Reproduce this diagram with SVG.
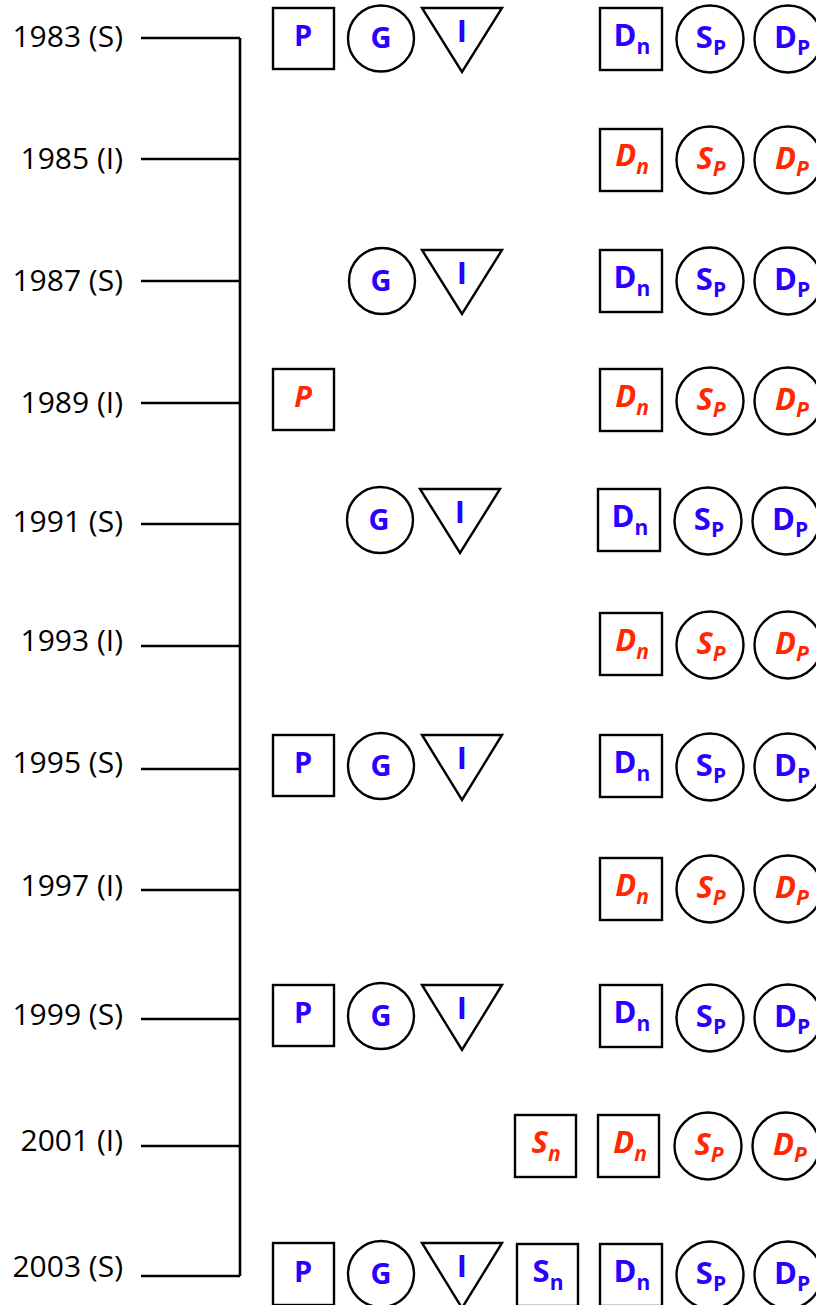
<svg xmlns="http://www.w3.org/2000/svg" width="816" height="1305" viewBox="0 0 816 1305">
<style>
.sh{fill:#fff;stroke:#000;stroke-width:2.4}
.ln{stroke:#000;stroke-width:2.6;fill:none}
.yr{font-family:"Open Sans","DejaVu Sans",sans-serif;font-size:30px;fill:#000;text-anchor:end}
.lb{font-family:"Open Sans","DejaVu Sans",sans-serif;font-weight:bold;font-size:29px;fill:#2B00FF;text-anchor:middle}
.big{font-size:31px}
.r{fill:#FF2800;font-style:italic}
.sb{font-size:21px}
</style>
<rect width="816" height="1305" fill="#fff"/>
<g id="connectors">
<path class="ln" d="M240 38V1276"/>
<path class="ln" d="M141 38H240M141 159H240M141 281H240M141 403H240M141 524H240M141 646H240M141 769H240M141 890H240M141 1019H240M141 1146H240M141 1276H240"/>
</g>
<g id="years">
<text class="yr" x="123" y="47">1983 (S)</text>
<text class="yr" x="123" y="169">1985 (I)</text>
<text class="yr" x="123" y="291">1987 (S)</text>
<text class="yr" x="123" y="413">1989 (I)</text>
<text class="yr" x="123" y="532">1991 (S)</text>
<text class="yr" x="123" y="651">1993 (I)</text>
<text class="yr" x="123" y="773">1995 (S)</text>
<text class="yr" x="123" y="896">1997 (I)</text>
<text class="yr" x="123" y="1025">1999 (S)</text>
<text class="yr" x="123" y="1151">2001 (I)</text>
<text class="yr" x="123" y="1277">2003 (S)</text>
</g>
<!-- 1983 -->
<g id="P1983"><rect class="sh" x="273" y="8" width="61" height="61"/><text class="lb" x="303" y="46">P</text></g>
<g id="G1983"><circle class="sh" cx="381" cy="38.5" r="33"/><text class="lb" x="381" y="48">G</text></g>
<g id="I1983"><polygon class="sh" points="422,8 502,8 462,72"/><text class="lb big" x="462" y="42">I</text></g>
<g id="Dn1983"><rect class="sh" x="600" y="8" width="62" height="62"/><text class="lb big" x="632" y="46">D<tspan class="sb" dy="8">n</tspan></text></g>
<g id="Sp1983"><circle class="sh" cx="710" cy="39" r="33.5"/><text class="lb big" x="711" y="48">S<tspan class="sb" dy="7">P</tspan></text></g>
<g id="Dp1983"><circle class="sh" cx="788" cy="39" r="33.5"/><text class="lb big" x="792" y="48">D<tspan class="sb" dy="7">P</tspan></text></g>
<!-- 1985 -->
<g id="Dn1985"><rect class="sh" x="600" y="129" width="62" height="62"/><text class="lb big r" x="632" y="166">D<tspan class="sb" dy="8">n</tspan></text></g>
<g id="Sp1985"><circle class="sh" cx="710" cy="160" r="33.5"/><text class="lb big r" x="711" y="169">S<tspan class="sb" dy="7">P</tspan></text></g>
<g id="Dp1985"><circle class="sh" cx="788" cy="160" r="33.5"/><text class="lb big r" x="792" y="169">D<tspan class="sb" dy="7">P</tspan></text></g>
<!-- 1987 -->
<g id="G1987"><circle class="sh" cx="382" cy="281" r="33"/><text class="lb" x="381" y="291">G</text></g>
<g id="I1987"><polygon class="sh" points="422,250 502,250 462,314"/><text class="lb big" x="462" y="284">I</text></g>
<g id="Dn1987"><rect class="sh" x="600" y="250" width="62" height="62"/><text class="lb big" x="632" y="288">D<tspan class="sb" dy="8">n</tspan></text></g>
<g id="Sp1987"><circle class="sh" cx="710" cy="281" r="33.5"/><text class="lb big" x="711" y="290">S<tspan class="sb" dy="7">P</tspan></text></g>
<g id="Dp1987"><circle class="sh" cx="788" cy="281" r="33.5"/><text class="lb big" x="792" y="290">D<tspan class="sb" dy="7">P</tspan></text></g>
<!-- 1989 -->
<g id="P1989"><rect class="sh" x="273" y="369" width="61" height="61"/><text class="lb r" x="303" y="407">P</text></g>
<g id="Dn1989"><rect class="sh" x="600" y="369" width="62" height="62"/><text class="lb big r" x="632" y="407">D<tspan class="sb" dy="8">n</tspan></text></g>
<g id="Sp1989"><circle class="sh" cx="710" cy="401" r="33.5"/><text class="lb big r" x="711" y="410">S<tspan class="sb" dy="7">P</tspan></text></g>
<g id="Dp1989"><circle class="sh" cx="788" cy="401" r="33.5"/><text class="lb big r" x="792" y="410">D<tspan class="sb" dy="7">P</tspan></text></g>
<!-- 1991 -->
<g id="G1991"><circle class="sh" cx="380" cy="520" r="33"/><text class="lb" x="379" y="530">G</text></g>
<g id="I1991"><polygon class="sh" points="420,489 500,489 460,553"/><text class="lb big" x="460" y="523">I</text></g>
<g id="Dn1991"><rect class="sh" x="598" y="489" width="62" height="62"/><text class="lb big" x="630" y="527">D<tspan class="sb" dy="8">n</tspan></text></g>
<g id="Sp1991"><circle class="sh" cx="708" cy="521" r="33.5"/><text class="lb big" x="709" y="530">S<tspan class="sb" dy="7">P</tspan></text></g>
<g id="Dp1991"><circle class="sh" cx="786" cy="521" r="33.5"/><text class="lb big" x="790" y="530">D<tspan class="sb" dy="7">P</tspan></text></g>
<!-- 1993 -->
<g id="Dn1993"><rect class="sh" x="600" y="613" width="62" height="62"/><text class="lb big r" x="632" y="651">D<tspan class="sb" dy="8">n</tspan></text></g>
<g id="Sp1993"><circle class="sh" cx="710" cy="645" r="33.5"/><text class="lb big r" x="711" y="654">S<tspan class="sb" dy="7">P</tspan></text></g>
<g id="Dp1993"><circle class="sh" cx="788" cy="645" r="33.5"/><text class="lb big r" x="792" y="654">D<tspan class="sb" dy="7">P</tspan></text></g>
<!-- 1995 -->
<g id="P1995"><rect class="sh" x="273" y="735" width="61" height="61"/><text class="lb" x="303" y="773">P</text></g>
<g id="G1995"><circle class="sh" cx="381" cy="766" r="33"/><text class="lb" x="381" y="776">G</text></g>
<g id="I1995"><polygon class="sh" points="422,735 502,735 462,800"/><text class="lb big" x="462" y="769">I</text></g>
<g id="Dn1995"><rect class="sh" x="600" y="735" width="62" height="62"/><text class="lb big" x="632" y="773">D<tspan class="sb" dy="8">n</tspan></text></g>
<g id="Sp1995"><circle class="sh" cx="710" cy="767" r="33.5"/><text class="lb big" x="711" y="776">S<tspan class="sb" dy="7">P</tspan></text></g>
<g id="Dp1995"><circle class="sh" cx="788" cy="767" r="33.5"/><text class="lb big" x="792" y="776">D<tspan class="sb" dy="7">P</tspan></text></g>
<!-- 1997 -->
<g id="Dn1997"><rect class="sh" x="600" y="858" width="62" height="62"/><text class="lb big r" x="632" y="896">D<tspan class="sb" dy="8">n</tspan></text></g>
<g id="Sp1997"><circle class="sh" cx="710" cy="889" r="33.5"/><text class="lb big r" x="711" y="898">S<tspan class="sb" dy="7">P</tspan></text></g>
<g id="Dp1997"><circle class="sh" cx="788" cy="889" r="33.5"/><text class="lb big r" x="792" y="898">D<tspan class="sb" dy="7">P</tspan></text></g>
<!-- 1999 -->
<g id="P1999"><rect class="sh" x="273" y="985" width="61" height="61"/><text class="lb" x="303" y="1023">P</text></g>
<g id="G1999"><circle class="sh" cx="381" cy="1016" r="33"/><text class="lb" x="381" y="1026">G</text></g>
<g id="I1999"><polygon class="sh" points="422,985 502,985 462,1050"/><text class="lb big" x="462" y="1019">I</text></g>
<g id="Dn1999"><rect class="sh" x="600" y="985" width="62" height="62"/><text class="lb big" x="632" y="1023">D<tspan class="sb" dy="8">n</tspan></text></g>
<g id="Sp1999"><circle class="sh" cx="710" cy="1018" r="33.5"/><text class="lb big" x="711" y="1027">S<tspan class="sb" dy="7">P</tspan></text></g>
<g id="Dp1999"><circle class="sh" cx="788" cy="1018" r="33.5"/><text class="lb big" x="792" y="1027">D<tspan class="sb" dy="7">P</tspan></text></g>
<!-- 2001 -->
<g id="Sn2001"><rect class="sh" x="515" y="1115" width="61" height="62"/><text class="lb big r" x="546" y="1153">S<tspan class="sb" dy="8">n</tspan></text></g>
<g id="Dn2001"><rect class="sh" x="598" y="1115" width="61" height="62"/><text class="lb big r" x="630" y="1153">D<tspan class="sb" dy="8">n</tspan></text></g>
<g id="Sp2001"><circle class="sh" cx="708" cy="1146" r="33.5"/><text class="lb big r" x="709" y="1155">S<tspan class="sb" dy="7">P</tspan></text></g>
<g id="Dp2001"><circle class="sh" cx="786" cy="1146" r="33.5"/><text class="lb big r" x="790" y="1155">D<tspan class="sb" dy="7">P</tspan></text></g>
<!-- 2003 -->
<g id="P2003"><rect class="sh" x="273" y="1243" width="61" height="62"/><text class="lb" x="303" y="1282">P</text></g>
<g id="G2003"><circle class="sh" cx="381" cy="1274" r="33"/><text class="lb" x="381" y="1284">G</text></g>
<g id="I2003"><polygon class="sh" points="422,1243 502,1243 462,1308"/><text class="lb big" x="462" y="1277">I</text></g>
<g id="Sn2003"><rect class="sh" x="517" y="1244" width="61" height="62"/><text class="lb big" x="548" y="1282">S<tspan class="sb" dy="8">n</tspan></text></g>
<g id="Dn2003"><rect class="sh" x="600" y="1244" width="62" height="62"/><text class="lb big" x="632" y="1282">D<tspan class="sb" dy="8">n</tspan></text></g>
<g id="Sp2003"><circle class="sh" cx="710" cy="1275" r="33.5"/><text class="lb big" x="711" y="1284">S<tspan class="sb" dy="7">P</tspan></text></g>
<g id="Dp2003"><circle class="sh" cx="788" cy="1275" r="33.5"/><text class="lb big" x="792" y="1284">D<tspan class="sb" dy="7">P</tspan></text></g>
</svg>
